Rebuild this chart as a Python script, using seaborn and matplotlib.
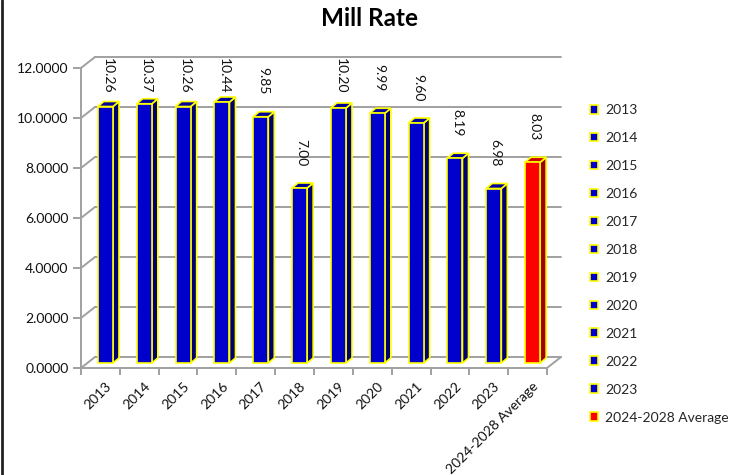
import matplotlib
matplotlib.use("Agg")
import matplotlib.pyplot as plt
import seaborn as sns
import pandas as pd
from matplotlib.patches import Polygon, Patch
from matplotlib.lines import Line2D
from matplotlib.transforms import ScaledTranslation

# data
categories = ['2013', '2014', '2015', '2016', '2017', '2018', '2019', '2020',
              '2021', '2022', '2023', '2024-2028 Average']
mill_rates = [10.26, 10.37, 10.26, 10.44, 9.85, 7.00, 10.20, 9.99, 9.60, 8.19, 6.98, 8.03]
y_ticks = [0, 2, 4, 6, 8, 10, 12]

front_colors = ['#0000CC'] * 11 + ['#FF0000']
side_colors = ['#000070'] * 11 + ['#A00000']
top_colors = ['#00009A'] * 11 + ['#C80000']
edge = '#FFFF00'
grid = '#A0A0A0'

sns.set_theme(style='white')
plt.rcParams['font.family'] = ['Lato', 'DejaVu Sans']

W, H = 738, 475
fig = plt.figure(figsize=(W / 100, H / 100), dpi=100)
ax = fig.add_axes([81 / W, 107 / H, 466 / W, 300 / H])

# pixels -> data units (front plane)
px_x = 12 / 466
px_y = 12 / 300
DX, DY = 14 * px_x, 11 * px_y      # back wall offset
BX, BY = 5 * px_x, 5 * px_y        # bar front offset
SX, SY = 6 * px_x, 5 * px_y        # bar depth

df = pd.DataFrame({'year': categories, 'rate': mill_rates})
sns.barplot(data=df, x='year', y='rate', hue='year', palette=front_colors,
            legend=False, width=0.39, saturation=1, edgecolor=edge,
            linewidth=1.2, ax=ax, zorder=3)
ax.set_xlim(-0.5, 11.5)
ax.set_ylim(0, 12)

# fake 3D: shift the bar fronts back a little and add side and top faces
for i, p in enumerate(ax.patches):
    p.set_x(p.get_x() + BX)
    p.set_y(BY)
    x0, x1 = p.get_x(), p.get_x() + p.get_width()
    y0, y1 = BY, BY + p.get_height()
    side = Polygon([(x1, y0), (x1 + SX, y0 + SY), (x1 + SX, y1 + SY), (x1, y1)],
                   closed=True, facecolor=side_colors[i], edgecolor=edge,
                   linewidth=1.2, zorder=2.9)
    top = Polygon([(x0, y1), (x0 + SX, y1 + SY), (x1 + SX, y1 + SY), (x1, y1)],
                  closed=True, facecolor=top_colors[i], edgecolor=edge,
                  linewidth=1.2, zorder=2.9)
    ax.add_patch(side)
    ax.add_patch(top)

# back wall gridlines and wall/floor diagonals
for y in y_ticks:
    ax.plot([-0.5 + DX, 11.5 + DX], [y + DY, y + DY], color=grid, lw=1.4,
            clip_on=False, zorder=1)
    ax.plot([-0.5, -0.5 + DX], [y, y + DY], color=grid, lw=1.4,
            clip_on=False, zorder=1)
ax.plot([11.5, 11.5 + DX], [0, DY], color=grid, lw=1.4, clip_on=False, zorder=1)

for s in ['top', 'right']:
    ax.spines[s].set_visible(False)
for s in ['left', 'bottom']:
    ax.spines[s].set_color(grid)
    ax.spines[s].set_linewidth(1.4)

ax.set_yticks(y_ticks)
ax.set_yticklabels(['%.4f' % t for t in y_ticks])
ax.set_xticks(range(len(categories)))
ax.set_xticks([i - 0.5 for i in range(len(categories) + 1)], minor=True)
ax.set_xlabel('')
ax.set_ylabel('')
ax.tick_params(axis='y', length=6, width=1.4, color=grid, labelsize=10,
               labelcolor='#111111', pad=3, left=True)
ax.tick_params(axis='x', which='major', length=0, labelsize=10,
               labelcolor='#111111', pad=4)
ax.tick_params(axis='x', which='minor', length=5, width=1.4, color=grid,
               bottom=True)
shift = ScaledTranslation(9 / 100, -11 / 100, fig.dpi_scale_trans)
for lab in ax.get_xticklabels():
    lab.set_rotation(45)
    lab.set_ha('right')
    lab.set_va('center')
    lab.set_rotation_mode('anchor')
    lab.set_transform(lab.get_transform() + shift)

# value labels above bars
texts = []
for i, v in enumerate(mill_rates):
    t = ax.text(i + BX + 2 * px_x, v + 27 * px_y, '%.2f' % v, rotation=-90,
                ha='center', va='bottom', fontsize=10, color='#111111',
                zorder=5, clip_on=False)
    texts.append(t)

fig.text(370 / W, 1 - 18 / H, 'Mill Rate', ha='center', va='center',
         fontsize=17.5, fontweight='bold', color='#000000')

handles = [Patch(facecolor=c, edgecolor=edge, linewidth=1.2) for c in front_colors]
fig.legend(handles, categories, loc='upper left', bbox_to_anchor=(590 / W, 1 - 104 / H),
           frameon=False, fontsize=10, handlelength=0.6, handleheight=0.6,
           handletextpad=0.5, labelspacing=1.15, borderpad=0, borderaxespad=0)

fig.add_artist(Line2D([1.5 / W, 1.5 / W], [0, 1], color='#222222', lw=2,
                      transform=fig.transFigure))

# keep value labels inside the chart area
fig.canvas.draw()
limit = H - 58
for t in texts:
    bb = t.get_window_extent()
    if bb.y1 > limit:
        x, y = t.get_position()
        t.set_position((x, y - (bb.y1 - limit) * px_y))

fig.savefig('out.png', dpi=100)
